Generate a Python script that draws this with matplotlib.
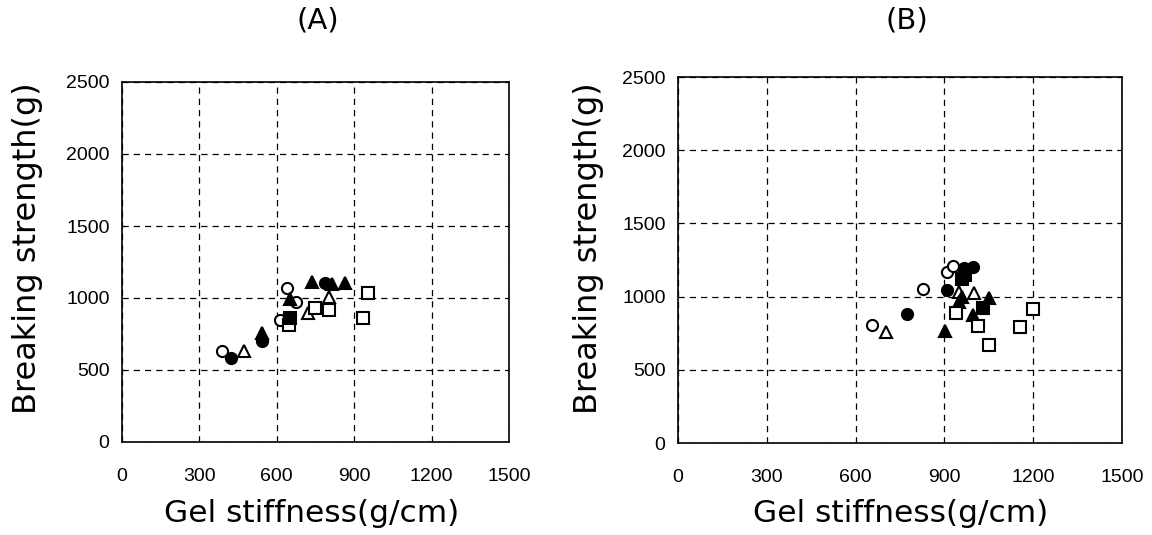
import matplotlib
matplotlib.use("Agg")
import matplotlib.pyplot as plt
from matplotlib import font_manager

names = {f.name for f in font_manager.fontManager.ttflist}
fam = "Liberation Sans Narrow" if "Liberation Sans Narrow" in names else "Liberation Sans"
plt.rcParams['font.family'] = [fam, 'DejaVu Sans']

# Panel A data (x: gel stiffness g/cm, y: breaking strength g)
a_open_circle_x = [386, 638, 674, 612]
a_open_circle_y = [632, 1067, 974, 847]
a_filled_circle_x = [421, 541, 787]
a_filled_circle_y = [581, 704, 1106]
a_open_tri_x = [473, 722, 802]
a_open_tri_y = [632, 898, 1009]
a_filled_tri_x = [541, 651, 735, 813, 864]
a_filled_tri_y = [755, 990, 1110, 1100, 1105]
a_open_sq_x = [649, 748, 802, 955, 935]
a_open_sq_y = [812, 928, 917, 1037, 863]
a_filled_sq_x = [651]
a_filled_sq_y = [859]

# Panel B data
b_open_circle_x = [656, 827, 908, 930]
b_open_circle_y = [806, 1050, 1166, 1211]
b_filled_circle_x = [773, 908, 965, 995]
b_filled_circle_y = [879, 1045, 1195, 1200]
b_open_tri_x = [703, 951, 1001]
b_open_tri_y = [761, 1033, 1027]
b_filled_tri_x = [902, 950, 958, 996, 1052]
b_filled_tri_y = [767, 960, 1000, 874, 988]
b_open_sq_x = [939, 1013, 1052, 1156, 1200]
b_open_sq_y = [886, 801, 669, 790, 913]
b_filled_sq_x = [970, 960, 1031]
b_filled_sq_y = [1150, 1120, 920]

x_ticks = [0, 300, 600, 900, 1200, 1500]
y_ticks = [0, 500, 1000, 1500, 2000, 2500]

W, H = 1152, 535
fig = plt.figure(figsize=(11.52, 5.35), dpi=100)
axA = fig.add_axes([122/W, 1-442/H, 387/W, 360/H])
axB = fig.add_axes([678/W, 1-443/H, 444/W, 366/H])

def draw(ax, data):
    ms = 8
    specs = [
        ('o', 'white'), ('o', 'black'), ('^', 'white'),
        ('^', 'black'), ('s', 'white'), ('s', 'black'),
    ]
    for (xs, ys), (m, fc) in zip(data, specs):
        ax.plot(xs, ys, linestyle='none', marker=m, markersize=ms,
                markerfacecolor=fc, markeredgecolor='black',
                markeredgewidth=1.5, zorder=3)
    ax.set_xlim(0, 1500)
    ax.set_ylim(0, 2500)
    ax.set_xticks(x_ticks)
    ax.set_yticks(y_ticks)
    ax.grid(True, color='black', linestyle=(0, (5, 4)), linewidth=0.9)
    ax.tick_params(axis='x', length=0, labelsize=14, pad=19)
    ax.tick_params(axis='y', length=0, labelsize=14, pad=9)
    for s in ax.spines.values():
        s.set_linewidth(1.2)
        s.set_color('black')

draw(axA, [(a_open_circle_x, a_open_circle_y), (a_filled_circle_x, a_filled_circle_y),
           (a_open_tri_x, a_open_tri_y), (a_filled_tri_x, a_filled_tri_y),
           (a_open_sq_x, a_open_sq_y), (a_filled_sq_x, a_filled_sq_y)])
draw(axB, [(b_open_circle_x, b_open_circle_y), (b_filled_circle_x, b_filled_circle_y),
           (b_open_tri_x, b_open_tri_y), (b_filled_tri_x, b_filled_tri_y),
           (b_open_sq_x, b_open_sq_y), (b_filled_sq_x, b_filled_sq_y)])

lab = dict(family=['DejaVu Sans'], fontsize=21)
fig.text(318/W, 1-20/H, '(A)', ha='center', va='center', **lab)
fig.text(907/W, 1-20/H, '(B)', ha='center', va='center', **lab)
fig.text(312/W, 1-513/H, 'Gel stiffness(g/cm)', ha='center', va='center',
         family=['DejaVu Sans'], fontsize=22.5)
fig.text(901/W, 1-513/H, 'Gel stiffness(g/cm)', ha='center', va='center',
         family=['DejaVu Sans'], fontsize=22.5)
fig.text(28/W, 1-248/H, 'Breaking strength(g)', ha='center', va='center',
         rotation=90, family=['DejaVu Sans'], fontsize=23)
fig.text(588/W, 1-248/H, 'Breaking strength(g)', ha='center', va='center',
         rotation=90, family=['DejaVu Sans'], fontsize=23)

fig.savefig('out.png', dpi=100)
